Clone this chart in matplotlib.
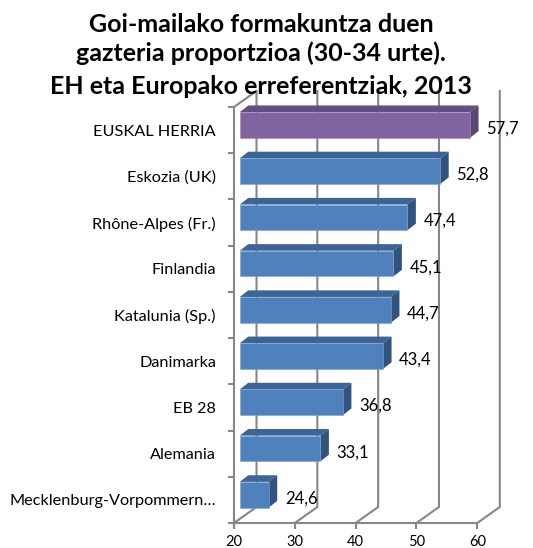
import matplotlib
matplotlib.use("Agg")
import matplotlib.pyplot as plt
from matplotlib.patches import Polygon

plt.rcParams['font.family'] = ['Lato', 'DejaVu Sans']

categories = ["EUSKAL HERRIA", "Eskozia (UK)", "Rhône-Alpes (Fr.)", "Finlandia",
              "Katalunia (Sp.)", "Danimarka", "EB 28", "Alemania",
              "Mecklenburg-Vorpommern…"]
values = [57.7, 52.8, 47.4, 45.1, 44.7, 43.4, 36.8, 33.1, 24.6]
value_labels = ["57,7", "52,8", "47,4", "45,1", "44,7", "43,4", "36,8", "33,1", "24,6"]
xticks = [20, 30, 40, 50, 60]
title_lines = ["Goi-mailako formakuntza duen",
               "gazteria proportzioa (30-34 urte).",
               "EH eta Europako erreferentziak, 2013"]

W, H = 533, 548
fig = plt.figure(figsize=(W / 100, H / 100), dpi=100)
L, R, T, B = 234, 477.3, 107, 523
ax = fig.add_axes([L / W, 1 - B / H, (R - L) / W, (B - T) / H])
ax.set_xlim(20, 60)
ax.set_ylim(8.5, -0.5)
ax.patch.set_alpha(0)

px = 40 / (R - L)        # data units per pixel, x
py = 9 / (B - T)         # data units per pixel, y
GRID = "#868686"
wall_dx, wall_dy = 22.5 * px, 16 * py

# back wall gridlines and floor diagonals
for t in xticks:
    ax.plot([t, t + wall_dx, t + wall_dx], [8.5, 8.5 - wall_dy, -0.5 - wall_dy],
            color=GRID, lw=1.5, clip_on=False, zorder=1, solid_joinstyle='miter')
ax.plot([20, 20 + wall_dx], [-0.5, -0.5 - wall_dy], color=GRID, lw=1.5, clip_on=False, zorder=1)

for s in ['top', 'right']:
    ax.spines[s].set_visible(False)
for s in ['left', 'bottom']:
    ax.spines[s].set_color(GRID)
    ax.spines[s].set_linewidth(1.5)
    ax.spines[s].set_zorder(1)

ax.set_xticks(xticks)
ax.set_yticks([i - 0.5 for i in range(10)])
ax.set_yticklabels([])
ax.tick_params(axis='both', color=GRID, width=1.5, length=4)
ax.tick_params(axis='x', labelsize=10.5, pad=5, labelcolor='black')

# bars
bar_h = 25.7 * py
x0 = 5.8 * px
up = 5.2 * py
dx, dy = 8.5 * px, 6.6 * py
for i, v in enumerate(values):
    face, top, side = ("#8064A2", "#644E80", "#5A4672") if i == 0 else ("#4F81BD", "#3A6596", "#31547F")
    edge = "#9E8BBA" if i == 0 else "#7FA3D0"
    xl, xr = 20 + x0, v + x0 + 0.15
    yt, yb = i - up - bar_h / 2, i - up + bar_h / 2
    ax.add_patch(Polygon([(xl, yt), (xr, yt), (xr + dx, yt - dy), (xl + dx, yt - dy)],
                         fc=top, ec='none', clip_on=False, zorder=3))
    ax.add_patch(Polygon([(xr, yt), (xr + dx, yt - dy), (xr + dx, yb - dy), (xr, yb)],
                         fc=side, ec='none', clip_on=False, zorder=3))
    ax.barh(i - up, xr - xl, left=xl, height=bar_h, color=face,
            edgecolor=edge, linewidth=0.4, clip_on=False, zorder=4)
    ax.text(xr + 16 * px, i - 1.5 * py, value_labels[i], ha='left', va='center',
            fontsize=12, color='black', clip_on=False, zorder=5)
    ax.text(20 - 18 * px, i + 1.5 * py, categories[i], ha='right', va='center',
            fontsize=11.7, color='black', clip_on=False, zorder=5)

ys = [24, 53, 87]
for line, y in zip(title_lines, ys):
    fig.text(261 / W, 1 - y / H, line, ha='center', va='center', fontsize=18,
             fontweight='bold', color='black', zorder=10)

fig.savefig("out.png", dpi=100, facecolor='white')
